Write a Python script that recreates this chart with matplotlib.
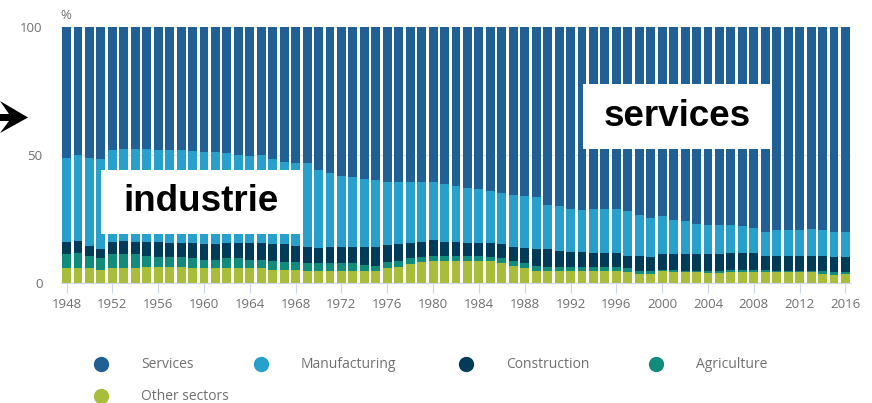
import matplotlib
matplotlib.use("Agg")
import matplotlib.pyplot as plt
from matplotlib.patches import Rectangle, Polygon
from matplotlib.lines import Line2D
import numpy as np

years = list(range(1948, 2017))

other = [5.5, 5.5, 5.5, 5.0, 5.5, 5.5, 5.5, 5.9, 5.9, 5.9,
         5.9, 5.5, 5.5, 5.5, 5.5, 5.5, 5.5, 5.5, 5.0, 5.0,
         5.0, 4.5, 4.5, 4.5, 4.5, 4.5, 4.5, 4.5, 5.5, 6.1,
         7.1, 8.0, 8.5, 8.5, 8.5, 8.5, 8.5, 8.5, 7.5, 6.5,
         5.5, 4.5, 4.5, 4.5, 4.5, 4.5, 4.5, 4.5, 4.5, 4.0,
         3.5, 3.5, 4.5, 4.0, 4.0, 4.0, 3.7, 3.7, 4.1, 4.1,
         4.1, 4.1, 4.0, 4.0, 4.0, 4.0, 3.5, 3.1, 3.5]
agriculture = [5.5, 6.0, 5.0, 4.5, 5.5, 5.5, 5.5, 4.5, 4.1, 4.1,
               4.1, 4.0, 3.4, 3.4, 4.0, 4.0, 3.4, 3.4, 3.4, 3.0,
               3.0, 3.0, 3.0, 3.0, 3.0, 3.0, 2.5, 2.1, 2.7, 2.4,
               2.4, 2.0, 2.0, 2.0, 2.0, 2.0, 2.0, 1.5, 2.0, 1.9,
               2.0, 2.0, 1.6, 1.6, 1.6, 1.6, 1.6, 1.6, 1.6, 1.5,
               1.0, 1.0, 0.5, 1.0, 0.5, 0.5, 0.8, 0.8, 0.9, 0.7,
               0.7, 0.7, 0.5, 0.5, 0.5, 0.5, 1.0, 0.9, 0.5]
construction = [5.0, 4.9, 3.9, 3.5, 5.0, 5.4, 5.0, 5.6, 6.0, 5.5,
                5.5, 6.0, 6.2, 6.2, 6.0, 6.0, 6.6, 6.6, 6.7, 7.1,
                6.4, 6.4, 5.9, 6.4, 6.4, 6.4, 6.9, 7.3, 6.5, 6.4,
                6.0, 6.0, 6.0, 5.5, 5.5, 5.0, 5.0, 5.5, 5.4, 5.6,
                5.9, 6.5, 6.9, 6.4, 5.8, 5.8, 5.3, 5.3, 5.3, 5.0,
                6.0, 5.5, 6.0, 6.0, 6.5, 6.5, 6.5, 6.5, 6.5, 6.7,
                6.7, 5.7, 6.0, 6.0, 6.0, 6.0, 6.0, 6.0, 6.0]
manufacturing = [32.9, 33.5, 34.5, 35.5, 35.9, 35.9, 36.3, 36.3, 35.9, 36.4,
                 36.4, 36.0, 35.8, 35.8, 35.1, 34.4, 34.0, 34.4, 33.2, 32.2,
                 32.2, 32.7, 30.5, 28.8, 27.9, 27.4, 26.5, 26.1, 24.8, 24.6,
                 24.0, 23.5, 23.0, 22.4, 21.9, 21.4, 21.0, 20.5, 20.0, 20.4,
                 20.5, 20.5, 17.3, 17.3, 17.0, 16.5, 17.5, 17.5, 17.5, 17.4,
                 15.9, 15.4, 14.9, 13.5, 12.9, 11.9, 11.5, 11.5, 11.0, 10.5,
                 10.0, 9.4, 9.9, 9.9, 9.9, 10.4, 9.9, 9.9, 9.9]

series_names = ["Other sectors", "Agriculture", "Construction", "Manufacturing"]
series_vals = [other, agriculture, construction, manufacturing]
colors = {"Services": "#206095", "Manufacturing": "#27a0cc",
          "Construction": "#003c57", "Agriculture": "#118c7b",
          "Other sectors": "#a8bd3a"}

W, H = 872, 403
grey = "#707070"
plt.rcParams["font.family"] = ["Open Sans", "DejaVu Sans"]

fig = plt.figure(figsize=(W / 100, H / 100), dpi=100)


def fx(x):
    return x / W


def fy(y):
    return 1 - y / H


ax = fig.add_axes([fx(60.8), fy(282.5), (851.2 - 60.8) / W, (282.5 - 27) / H])

# stacked bars, services fill up to 100
bottom = np.zeros(len(years))
for name, vals in zip(series_names, series_vals):
    vals = np.array(vals)
    ax.bar(years, vals, bottom=bottom, width=0.78, color=colors[name], zorder=2)
    bottom += vals
services = 100 - bottom
ax.bar(years, services, bottom=bottom, width=0.78, color=colors["Services"], zorder=2)

ax.set_xlim(1947.5, 2016.5)
ax.set_ylim(0, 100)
ax.set_xticks(years[::4])
ax.set_yticks([0, 50, 100])
ax.yaxis.grid(True, color="#e6e6e6", lw=1, zorder=0)
for s in ["top", "right", "left"]:
    ax.spines[s].set_visible(False)
ax.spines["bottom"].set_color("#ccd6eb")
ax.tick_params(axis="x", length=7, color="#ccd6eb", labelsize=9.5,
               labelcolor=grey, pad=4)
ax.tick_params(axis="y", length=0, labelsize=9.5, labelcolor=grey, pad=13)
ax.text(0.0, 1.02, "%", transform=ax.transAxes, fontsize=9.5, color=grey,
        ha="left", va="bottom")

# legend, laid out by hand
legend_items = [("Services", 101, 364), ("Manufacturing", 261, 364),
                ("Construction", 466, 364), ("Agriculture", 656, 364),
                ("Other sectors", 101, 396)]
for name, x, y in legend_items:
    fig.add_artist(Line2D([fx(x)], [fy(y)], marker="o", markersize=10,
                          color=colors[name], lw=0, transform=fig.transFigure))
    fig.text(fx(x + 40), fy(y), name, fontsize=10, color=grey,
             ha="left", va="center")

# white label boxes
for label, (x0, y0, x1, y1) in [("industrie", (101, 170, 301, 234)),
                                 ("services", (583, 84, 771, 149))]:
    fig.add_artist(Rectangle((fx(x0), fy(y1)), (x1 - x0) / W, (y1 - y0) / H,
                             facecolor="white", edgecolor="none",
                             transform=fig.transFigure, zorder=5))
    fig.text(fx((x0 + x1) / 2), fy((y0 + y1) / 2), label, fontsize=26.5,
             fontweight="bold", family="Liberation Sans", color="black",
             ha="center", va="center", zorder=6)

# arrow on the left edge
arrow_pts = [(0, 101), (28, 117.5), (0, 133), (9, 121), (0, 121),
             (0, 114), (9, 114)]
fig.add_artist(Polygon([(fx(x), fy(y)) for x, y in arrow_pts], closed=True,
                       facecolor="black", edgecolor="none",
                       transform=fig.transFigure, zorder=6))

fig.savefig("out.png", dpi=100)
